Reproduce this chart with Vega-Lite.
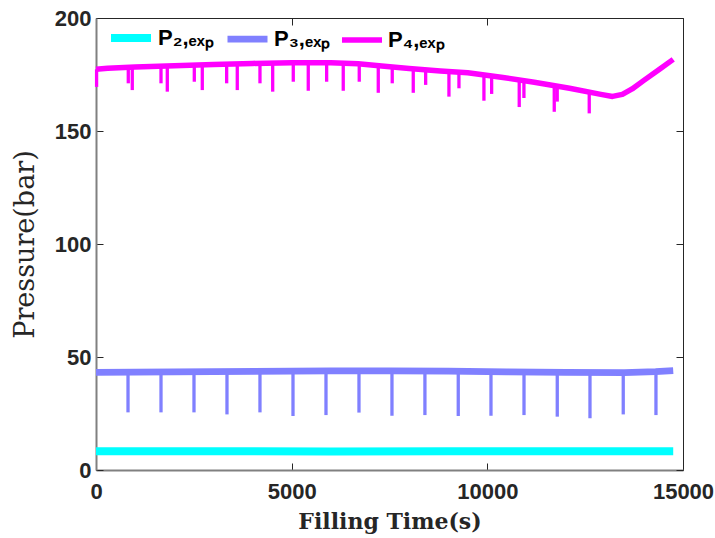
{
  "$schema": "https://vega.github.io/schema/vega-lite/v6.json",
  "autosize": "none",
  "width": 587,
  "height": 452,
  "padding": {"left": 96, "top": 18, "right": 32, "bottom": 68},
  "background": "white",
  "config": {
    "view": {"stroke": "#262626", "strokeWidth": 1},
    "axis": {
      "grid": false,
      "labelFont": "Liberation Sans",
      "labelFontSize": 22,
      "labelFontWeight": "bold",
      "labelColor": "#262626",
      "labelFlush": false,
      "titleFont": "DejaVu Serif",
      "titleColor": "#262626",
      "domainColor": "#808080",
      "domainWidth": 2,
      "tickColor": "#262626",
      "tickWidth": 1,
      "tickSize": -7
    },
    "legend": {
      "symbolType": "stroke",
      "symbolSize": 1600,
      "symbolStrokeWidth": 3.5,
      "labelFont": "Liberation Sans",
      "labelFontSize": 22,
      "labelFontWeight": "bold",
      "labelColor": "#000000",
      "labelOffset": 3,
      "columnPadding": 0,
      "padding": 0,
      "labelLimit": 200
    }
  },
  "datasets": {
    "base": [
      {"s": "P₂,ₑₓₚ", "t": 0, "p": 8.3},
      {"s": "P₂,ₑₓₚ", "t": 3000, "p": 8.3},
      {"s": "P₂,ₑₓₚ", "t": 6000, "p": 8.2},
      {"s": "P₂,ₑₓₚ", "t": 9000, "p": 8.3},
      {"s": "P₂,ₑₓₚ", "t": 12000, "p": 8.3},
      {"s": "P₂,ₑₓₚ", "t": 14750, "p": 8.3},
      {"s": "P₃,ₑₓₚ", "t": 0, "p": 43.2},
      {"s": "P₃,ₑₓₚ", "t": 3000, "p": 43.5},
      {"s": "P₃,ₑₓₚ", "t": 6000, "p": 43.9},
      {"s": "P₃,ₑₓₚ", "t": 7500, "p": 43.9},
      {"s": "P₃,ₑₓₚ", "t": 9000, "p": 43.7},
      {"s": "P₃,ₑₓₚ", "t": 10500, "p": 43.4},
      {"s": "P₃,ₑₓₚ", "t": 12000, "p": 43.2},
      {"s": "P₃,ₑₓₚ", "t": 13500, "p": 43.1},
      {"s": "P₃,ₑₓₚ", "t": 14300, "p": 43.5},
      {"s": "P₃,ₑₓₚ", "t": 14750, "p": 44.0},
      {"s": "P₄,ₑₓₚ", "t": 0, "p": 177.3},
      {"s": "P₄,ₑₓₚ", "t": 300, "p": 177.8},
      {"s": "P₄,ₑₓₚ", "t": 1000, "p": 178.3},
      {"s": "P₄,ₑₓₚ", "t": 2000, "p": 178.9},
      {"s": "P₄,ₑₓₚ", "t": 3000, "p": 179.4},
      {"s": "P₄,ₑₓₚ", "t": 4000, "p": 179.9},
      {"s": "P₄,ₑₓₚ", "t": 5000, "p": 180.2},
      {"s": "P₄,ₑₓₚ", "t": 6000, "p": 180.2},
      {"s": "P₄,ₑₓₚ", "t": 6700, "p": 179.8},
      {"s": "P₄,ₑₓₚ", "t": 7300, "p": 178.8},
      {"s": "P₄,ₑₓₚ", "t": 8000, "p": 177.7},
      {"s": "P₄,ₑₓₚ", "t": 8800, "p": 176.6},
      {"s": "P₄,ₑₓₚ", "t": 9500, "p": 175.8},
      {"s": "P₄,ₑₓₚ", "t": 10400, "p": 173.7},
      {"s": "P₄,ₑₓₚ", "t": 11200, "p": 171.6},
      {"s": "P₄,ₑₓₚ", "t": 12100, "p": 168.9},
      {"s": "P₄,ₑₓₚ", "t": 12900, "p": 166.2},
      {"s": "P₄,ₑₓₚ", "t": 13200, "p": 165.3},
      {"s": "P₄,ₑₓₚ", "t": 13450, "p": 166.2},
      {"s": "P₄,ₑₓₚ", "t": 13700, "p": 168.6},
      {"s": "P₄,ₑₓₚ", "t": 14000, "p": 172.4},
      {"s": "P₄,ₑₓₚ", "t": 14400, "p": 177.3},
      {"s": "P₄,ₑₓₚ", "t": 14750, "p": 181.7}
    ],
    "spikes": [
      {"s": "P₃,ₑₓₚ", "t": 818, "p": 25.5, "b": 43.3},
      {"s": "P₃,ₑₓₚ", "t": 1661, "p": 25.5, "b": 43.3},
      {"s": "P₃,ₑₓₚ", "t": 2504, "p": 25.5, "b": 43.4},
      {"s": "P₃,ₑₓₚ", "t": 3347, "p": 24.6, "b": 43.5},
      {"s": "P₃,ₑₓₚ", "t": 4190, "p": 25.5, "b": 43.6},
      {"s": "P₃,ₑₓₚ", "t": 5034, "p": 23.9, "b": 43.7},
      {"s": "P₃,ₑₓₚ", "t": 5877, "p": 24.3, "b": 43.9},
      {"s": "P₃,ₑₓₚ", "t": 6720, "p": 25.4, "b": 43.9},
      {"s": "P₃,ₑₓₚ", "t": 7563, "p": 24.0, "b": 43.9},
      {"s": "P₃,ₑₓₚ", "t": 8405, "p": 24.3, "b": 43.8},
      {"s": "P₃,ₑₓₚ", "t": 9257, "p": 23.9, "b": 43.7},
      {"s": "P₃,ₑₓₚ", "t": 10093, "p": 24.0, "b": 43.5},
      {"s": "P₃,ₑₓₚ", "t": 10937, "p": 24.3, "b": 43.4},
      {"s": "P₃,ₑₓₚ", "t": 11787, "p": 23.6, "b": 43.2},
      {"s": "P₃,ₑₓₚ", "t": 12623, "p": 22.9, "b": 43.2},
      {"s": "P₃,ₑₓₚ", "t": 13473, "p": 24.6, "b": 43.1},
      {"s": "P₃,ₑₓₚ", "t": 14309, "p": 24.3, "b": 43.5},
      {"s": "P₄,ₑₓₚ", "t": 15, "p": 169.5, "b": 177.3},
      {"s": "P₄,ₑₓₚ", "t": 825, "p": 171.1, "b": 178.2},
      {"s": "P₄,ₑₓₚ", "t": 927, "p": 168.1, "b": 178.3},
      {"s": "P₄,ₑₓₚ", "t": 1661, "p": 171.1, "b": 178.7},
      {"s": "P₄,ₑₓₚ", "t": 1822, "p": 167.4, "b": 178.8},
      {"s": "P₄,ₑₓₚ", "t": 2512, "p": 171.8, "b": 179.2},
      {"s": "P₄,ₑₓₚ", "t": 2716, "p": 168.1, "b": 179.3},
      {"s": "P₄,ₑₓₚ", "t": 3339, "p": 171.1, "b": 179.6},
      {"s": "P₄,ₑₓₚ", "t": 3610, "p": 168.1, "b": 179.7},
      {"s": "P₄,ₑₓₚ", "t": 4190, "p": 171.1, "b": 180.0},
      {"s": "P₄,ₑₓₚ", "t": 4515, "p": 167.4, "b": 180.0},
      {"s": "P₄,ₑₓₚ", "t": 5041, "p": 171.8, "b": 180.2},
      {"s": "P₄,ₑₓₚ", "t": 5424, "p": 167.8, "b": 180.2},
      {"s": "P₄,ₑₓₚ", "t": 5894, "p": 171.8, "b": 180.2},
      {"s": "P₄,ₑₓₚ", "t": 6318, "p": 167.8, "b": 180.0},
      {"s": "P₄,ₑₓₚ", "t": 6727, "p": 171.8, "b": 179.8},
      {"s": "P₄,ₑₓₚ", "t": 7213, "p": 166.9, "b": 179.0},
      {"s": "P₄,ₑₓₚ", "t": 7570, "p": 171.1, "b": 178.4},
      {"s": "P₄,ₑₓₚ", "t": 8107, "p": 166.9, "b": 177.6},
      {"s": "P₄,ₑₓₚ", "t": 8424, "p": 170.4, "b": 177.1},
      {"s": "P₄,ₑₓₚ", "t": 9019, "p": 165.2, "b": 176.4},
      {"s": "P₄,ₑₓₚ", "t": 9275, "p": 168.9, "b": 176.1},
      {"s": "P₄,ₑₓₚ", "t": 9913, "p": 163.4, "b": 174.8},
      {"s": "P₄,ₑₓₚ", "t": 10110, "p": 166.4, "b": 174.4},
      {"s": "P₄,ₑₓₚ", "t": 10815, "p": 160.6, "b": 172.6},
      {"s": "P₄,ₑₓₚ", "t": 10935, "p": 164.6, "b": 172.3},
      {"s": "P₄,ₑₓₚ", "t": 11710, "p": 158.5, "b": 170.1},
      {"s": "P₄,ₑₓₚ", "t": 11786, "p": 163.0, "b": 169.9},
      {"s": "P₄,ₑₓₚ", "t": 12604, "p": 157.8, "b": 167.2}
    ]
  },
  "layer": [
    {
      "data": {"name": "base"},
      "mark": {"type": "line", "strokeJoin": "round", "strokeCap": "butt"},
      "encoding": {
        "x": {
          "field": "t", "type": "quantitative",
          "scale": {"domain": [0, 15000], "nice": false, "zero": false},
          "axis": {"orient": "bottom", "values": [0, 5000, 10000, 15000], "title": "Filling Time(s)", "titleFontSize": 22, "titleFontWeight": "bold", "labelPadding": 18, "titlePadding": 9, "format": "d"}
        },
        "y": {
          "field": "p", "type": "quantitative",
          "scale": {"domain": [0, 200], "nice": false},
          "axis": {"orient": "left", "values": [0, 50, 100, 150, 200], "title": "Pressure(bar)", "titleFontSize": 27, "titleFontWeight": "normal", "labelPadding": 12, "titlePadding": 15}
        },
        "color": {
          "field": "s", "type": "nominal",
          "scale": {"domain": ["P₂,ₑₓₚ", "P₃,ₑₓₚ", "P₄,ₑₓₚ"], "range": ["#00FFFF", "#8080FF", "#FF00FF"]},
          "legend": {
            "title": null, "orient": "none", "legendX": 11, "legendY": -4, "direction": "horizontal",
            "encode": {"symbols": {"update": {"strokeWidth": {"value": 3.5}}}}
          }
        },
        "strokeWidth": {
          "field": "s", "type": "nominal",
          "scale": {"domain": ["P₂,ₑₓₚ", "P₃,ₑₓₚ", "P₄,ₑₓₚ"], "range": [8, 5.5, 6]},
          "legend": null
        }
      }
    },
    {
      "data": {"name": "spikes"},
      "mark": {"type": "rule", "strokeWidth": 3.3, "strokeCap": "butt"},
      "encoding": {
        "x": {"field": "t", "type": "quantitative", "scale": {"domain": [0, 15000], "nice": false, "zero": false}, "axis": null},
        "y": {"field": "p", "type": "quantitative", "scale": {"domain": [0, 200], "nice": false}, "axis": null},
        "y2": {"field": "b"},
        "color": {
          "field": "s", "type": "nominal",
          "scale": {"domain": ["P₂,ₑₓₚ", "P₃,ₑₓₚ", "P₄,ₑₓₚ"], "range": ["#00FFFF", "#8080FF", "#FF00FF"]},
          "legend": {
            "title": null, "orient": "none", "legendX": 11, "legendY": -4, "direction": "horizontal",
            "encode": {"symbols": {"update": {"strokeWidth": {"value": 3.5}}}}
          }
        }
      }
    },
    {
      "data": {"name": "base"},
      "mark": {"type": "point", "opacity": 0},
      "encoding": {
        "x": {
          "field": "t", "type": "quantitative",
          "scale": {"domain": [0, 15000], "nice": false, "zero": false},
          "axis": {"orient": "top", "values": [0, 5000, 10000, 15000], "labels": false, "title": null, "domain": false}
        },
        "y": {
          "field": "p", "type": "quantitative",
          "scale": {"domain": [0, 200], "nice": false},
          "axis": {"orient": "right", "values": [0, 50, 100, 150, 200], "labels": false, "title": null, "domain": false}
        }
      }
    }
  ],
  "resolve": {"axis": {"x": "independent", "y": "independent"}}
}
